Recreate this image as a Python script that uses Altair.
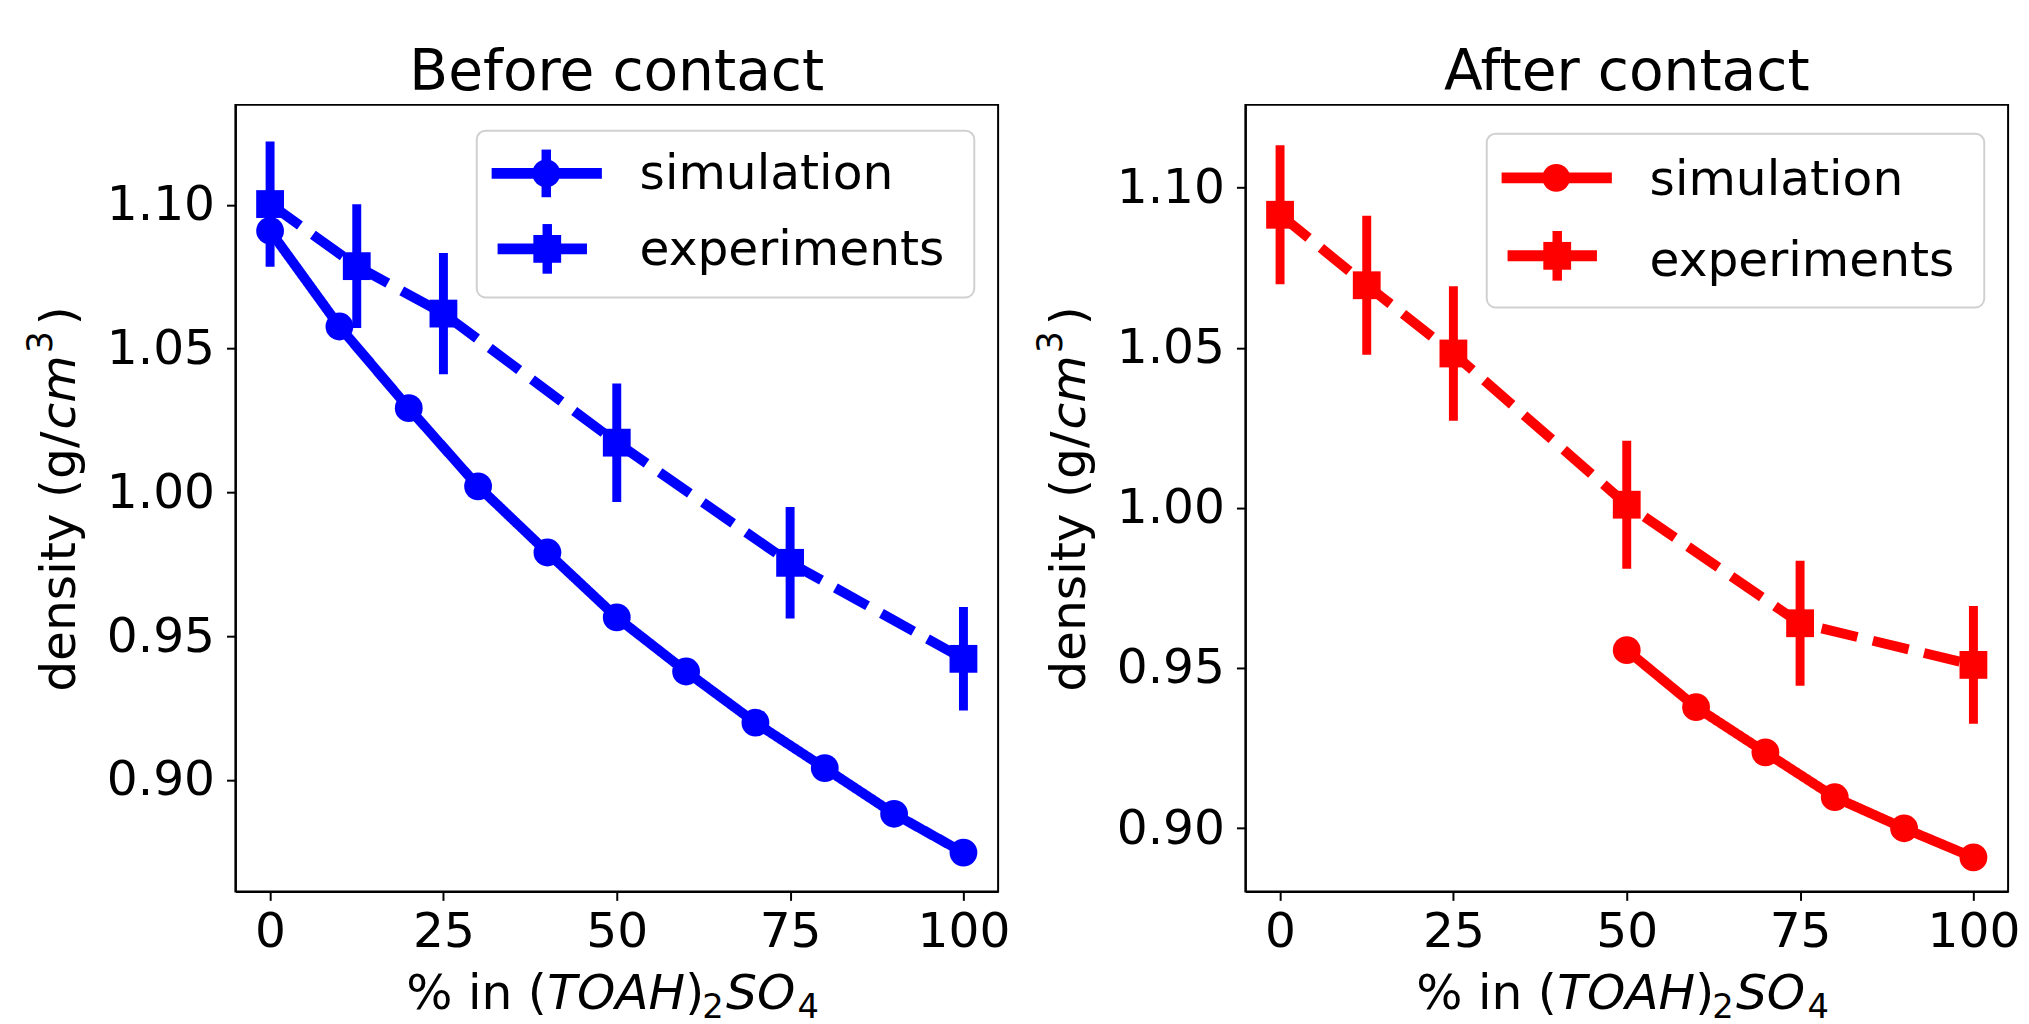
import altair as alt
import pandas as pd

FONT = "DejaVu Sans"

series_order = ["simulation", "experiments"]
x_ticks = [0, 25, 50, 75, 100]
y_ticks = [0.90, 0.95, 1.00, 1.05, 1.10]

# ---- Before contact ----
before_sim_x = [0, 10, 20, 30, 40, 50, 60, 70, 80, 90, 100]
before_sim_y = [1.091, 1.0577, 1.0293, 1.0021, 0.9791, 0.9565, 0.9377, 0.9199, 0.9041, 0.8882, 0.8747]
before_exp_x = [0, 12.5, 25, 50, 75, 100]
before_exp_y = [1.1003, 1.0787, 1.0622, 1.0173, 0.9755, 0.9421]
before_exp_err = [0.0218, 0.0215, 0.0211, 0.0206, 0.0194, 0.0180]

# ---- After contact ----
after_sim_x = [50, 60, 70, 80, 90, 100]
after_sim_y = [0.9556, 0.9378, 0.9237, 0.9097, 0.9000, 0.8909]
after_exp_x = [0, 12.5, 25, 50, 75, 100]
after_exp_y = [1.0915, 1.0695, 1.0482, 1.0010, 0.9640, 0.9510]
after_exp_err = [0.0217, 0.0217, 0.0210, 0.0200, 0.0195, 0.0184]

W, H = 768, 792
ONE = pd.DataFrame({"k": [0]})


def txt(text, x, y, size=49, italic=False, angle=0, align="left", baseline="alphabetic"):
    return alt.Chart(pd.DataFrame({"t": [text]})).mark_text(
        font=FONT, fontSize=size, fontStyle="italic" if italic else "normal",
        align=align, baseline=baseline, angle=angle, color="black"
    ).encode(text="t:N", x=alt.value(x), y=alt.value(y))


def hline(color, x0, x1, y, w):
    return alt.Chart(ONE).mark_rule(color=color, strokeWidth=w).encode(
        x=alt.value(x0), x2=alt.value(x1), y=alt.value(y))


def vline(color, x, y0, y1, w):
    return alt.Chart(ONE).mark_rule(color=color, strokeWidth=w).encode(
        x=alt.value(x), y=alt.value(y0), y2=alt.value(y1))


def glyph(color, shape, x, y):
    return alt.Chart(ONE).mark_point(filled=True, opacity=1, color=color, shape=shape,
                                     size=784, strokeWidth=0).encode(
        x=alt.value(x), y=alt.value(y))


def legend_marks(color, box_y0, box_y1, sim_y, exp_y, sim_base, exp_base, sim_bar):
    frame = alt.Chart(ONE).mark_rect(fill="white", stroke="#d0d0d0", strokeWidth=2,
                                     cornerRadius=9).encode(
        x=alt.value(243), x2=alt.value(744), y=alt.value(box_y0), y2=alt.value(box_y1))
    marks = [frame, hline(color, 258, 369, sim_y, 11)]
    if sim_bar:
        marks.append(vline(color, 313, sim_y - 24, sim_y + 24, 9.5))
    marks += [
        glyph(color, "circle", 313, sim_y),
        hline(color, 264, 354, exp_y, 11),
        vline(color, 314, exp_y - 25, exp_y + 25, 9.5),
        glyph(color, "square", 314, exp_y),
        txt(series_order[0], 407, sim_base),
        txt(series_order[1], 407, exp_base),
    ]
    return marks


def panel(title, sim_x, sim_y, exp_x, exp_y, exp_err, color, ydom, leg_geom, sim_bar):
    rows = []
    for xv, yv in zip(sim_x, sim_y):
        rows.append({"series": "simulation", "x": xv, "y": yv, "lo": yv, "hi": yv})
    for xv, yv, e in zip(exp_x, exp_y, exp_err):
        rows.append({"series": "experiments", "x": xv, "y": yv, "lo": yv - e, "hi": yv + e})
    df = pd.DataFrame(rows)
    base = alt.Chart(df)

    xscale = alt.Scale(domain=[-5, 105], nice=False, zero=False)
    yscale = alt.Scale(domain=ydom, nice=False, zero=False)
    xaxis = alt.Axis(values=x_ticks, format="d", title=None, labelFlush=False, labelOverlap=False)
    yaxis = alt.Axis(values=y_ticks, format=".2f", title=None, labelOverlap=False)

    lines = base.mark_line(color=color, strokeWidth=10, strokeJoin="round").encode(
        x=alt.X("x:Q", scale=xscale, axis=xaxis),
        y=alt.Y("y:Q", scale=yscale, axis=yaxis),
        detail="series:N",
        strokeDash=alt.StrokeDash("series:N",
                                  scale=alt.Scale(domain=series_order, range=[[1, 0], [37, 16]]),
                                  legend=None),
    )
    bars = base.transform_filter("datum.series == 'experiments'").mark_rule(
        color=color, strokeWidth=9
    ).encode(x=alt.X("x:Q", scale=xscale, axis=xaxis),
             y=alt.Y("lo:Q", scale=yscale, axis=yaxis), y2="hi:Q")
    pts = base.mark_point(filled=True, opacity=1, color=color, size=784, strokeWidth=0).encode(
        x=alt.X("x:Q", scale=xscale, axis=xaxis),
        y=alt.Y("y:Q", scale=yscale, axis=yaxis),
        shape=alt.Shape("series:N",
                        scale=alt.Scale(domain=series_order, range=["circle", "square"]),
                        legend=None),
    )

    head = txt(title, W / 2, -15, size=57, align="center")

    xt_base = H + 118
    xt_sub = H + 127
    xtitle = [
        txt("% in (", 172, xt_base),
        txt("TOAH", 314, xt_base, italic=True),
        txt(")", 453, xt_base),
        txt("2", 470, xt_sub, size=34),
        txt("SO", 494, xt_base, italic=True),
        txt("4", 566, xt_sub, size=34),
    ]
    ytitle = [
        txt("density (g/", -162, 591, angle=270),
        txt("cm", -162, 327, italic=True, angle=270),
        txt("3", -185, 250, size=35, angle=270),
        txt(")", -162, 222, angle=270),
    ]
    legend = legend_marks(color, *leg_geom, sim_bar)

    return alt.layer(lines, bars, pts, *legend, head, *xtitle, *ytitle).properties(
        width=W, height=H)


left = panel("Before contact", before_sim_x, before_sim_y, before_exp_x, before_exp_y,
             before_exp_err, "#0000ff", [0.8612, 1.1348],
             (26, 194, 69, 145, 85, 161.5), True)
right = panel("After contact", after_sim_x, after_sim_y, after_exp_x, after_exp_y,
              after_exp_err, "#ff0000", [0.8803, 1.1258],
              (29, 204, 73.5, 152, 91, 172.5), False)

chart = alt.hconcat(left, right, spacing=22).properties(
    padding={"left": 15, "top": 32, "right": 0, "bottom": 0},
    background="white",
).configure_view(stroke="black", strokeWidth=2).configure_axis(
    labelFont=FONT, labelFontSize=49, labelColor="black",
    tickColor="black", tickSize=9, tickWidth=2,
    domainColor="black", domainWidth=2, grid=False,
).configure_axisX(labelPadding=7).configure_axisY(labelPadding=12)

chart.save("out.html", embed_options={"renderer": "svg", "actions": False})
